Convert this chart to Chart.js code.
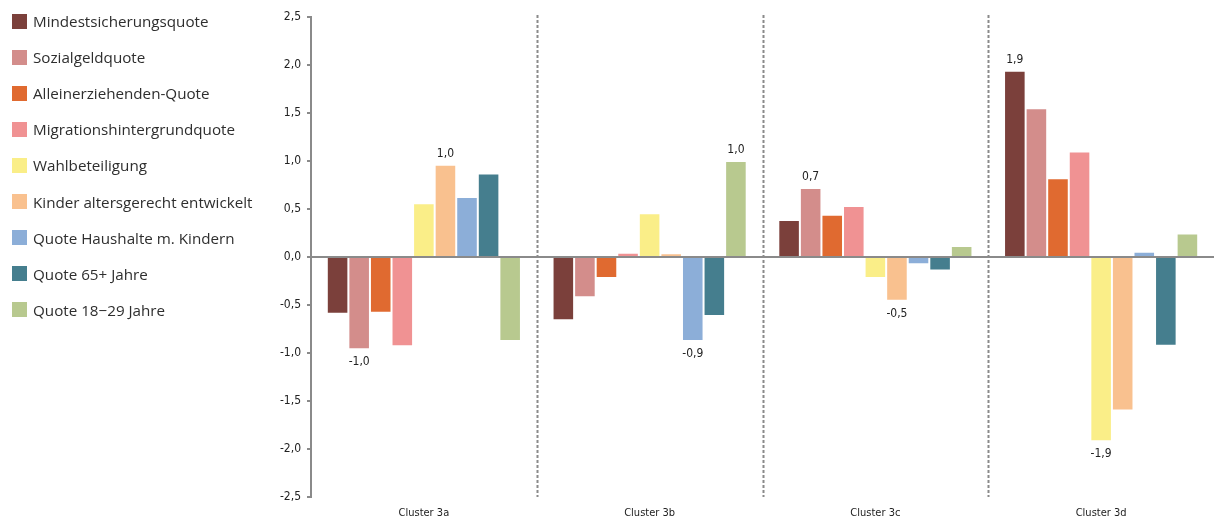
<!DOCTYPE html>
<html><head><meta charset="utf-8">
<script src="https://cdn.jsdelivr.net/npm/chart.js@4/dist/chart.umd.min.js"></script>
<style>
html,body{margin:0;padding:0;background:#fff;}
#wrap{position:relative;width:1214px;height:520px;overflow:hidden;}
#c{position:absolute;left:0;top:0;}
#legend{position:absolute;left:12px;top:0;font-family:"Open Sans","Noto Sans",sans-serif;font-size:15.2px;color:#2e2e2e;}
.item{position:absolute;left:0;white-space:nowrap;display:flex;align-items:center;height:20px;}
.sw{width:15px;height:15px;margin-right:6px;flex:none;}
</style>
</head><body>
<div id="wrap"><canvas id="c" width="1214" height="520"></canvas><div id="legend"></div></div>
<script>
const categories = ["Cluster 3a","Cluster 3b","Cluster 3c","Cluster 3d"];
const seriesNames = ["Mindestsicherungsquote","Sozialgeldquote","Alleinerziehenden-Quote","Migrationshintergrundquote","Wahlbeteiligung","Kinder altersgerecht entwickelt","Quote Haushalte m. Kindern","Quote 65+ Jahre","Quote 18\u221229 Jahre"];
const seriesColors = ["#7B403B","#D38D8B","#E06A30","#F09293","#FAEE88","#F9C18F","#8CAED8","#457E8E","#B8C98F"];
const mindest    = [-0.59, -0.66,  0.385,  1.94];
const sozialgeld = [-0.96, -0.42,  0.72,   1.55];
const alleinerz  = [-0.58, -0.22,  0.44,   0.82];
const migration  = [-0.93,  0.045, 0.53,   1.10];
const wahl       = [ 0.56,  0.455,-0.22,  -1.92];
const kinder     = [ 0.96,  0.04, -0.455, -1.60];
const haushalte  = [ 0.625,-0.875,-0.075,  0.055];
const quote65    = [ 0.87, -0.615,-0.14,  -0.925];
const quote1829  = [-0.875, 1.00,  0.115,  0.245];
const seriesValues = [mindest,sozialgeld,alleinerz,migration,wahl,kinder,haushalte,quote65,quote1829];
const yTicks = [-2.5,-2.0,-1.5,-1.0,-0.5,0,0.5,1.0,1.5,2.0,2.5];
// [series index, category index] of bars that carry a value label
const labelledBars = [[1,0],[5,0],[6,1],[8,1],[1,2],[5,2],[0,3],[4,3]];

const fmt = v => (Math.round(v*10)/10).toFixed(1).replace('.',',').replace(/^-0,0$/,'0,0');
const narrow = '"Liberation Sans Narrow","DejaVu Sans Condensed","Liberation Sans",sans-serif';

// HTML legend
const leg = document.getElementById('legend');
seriesNames.forEach((n,i)=>{
  const d=document.createElement('div');d.className='item';d.style.top=(11+i*36.1)+'px';
  d.innerHTML='<span class="sw" style="background:'+seriesColors[i]+'"></span><span>'+n+'</span>';
  leg.appendChild(d);
});

const dividerPlugin = {
  id:'dividers',
  beforeDatasetsDraw(chart){
    const xs=chart.scales.x, ca=chart.chartArea, ctx=chart.ctx;
    ctx.save();ctx.strokeStyle='#8a8a8a';ctx.lineWidth=2;ctx.setLineDash([3,2]);
    for(let i=0;i<categories.length-1;i++){
      const x=Math.round((xs.getPixelForTick(i)+xs.getPixelForTick(i+1))/2)+0.5;
      ctx.beginPath();ctx.moveTo(x,ca.top-2);ctx.lineTo(x,ca.bottom);ctx.stroke();
    }
    ctx.restore();
  }
};
const valueLabelPlugin = {
  id:'valueLabels',
  afterDatasetsDraw(chart){
    const ctx=chart.ctx;ctx.save();
    ctx.font='12px '+narrow;ctx.fillStyle='#222';ctx.textAlign='center';ctx.textBaseline='middle';
    labelledBars.forEach(([s,c])=>{
      const el=chart.getDatasetMeta(s).data[c];const v=seriesValues[s][c];
      ctx.fillText(fmt(v),el.x,v>=0?el.y-11:el.y+13);
    });
    ctx.restore();
  }
};

new Chart(document.getElementById('c'),{
  type:'bar',
  data:{labels:categories,datasets:seriesValues.map((vals,i)=>({
    label:seriesNames[i],data:vals,backgroundColor:seriesColors[i],
    borderColor:'rgba(255,255,255,0.55)',borderWidth:1,
    categoryPercentage:0.86,barPercentage:1
  }))},
  options:{
    responsive:false,animation:false,
    layout:{padding:{left:260,top:17,right:0,bottom:0}},
    plugins:{legend:{display:false},tooltip:{enabled:false}},
    scales:{
      x:{
        afterFit(scale){scale.height=23;},
        grid:{display:false,drawTicks:false},border:{display:false},
        ticks:{font:{family:narrow,size:11},color:'#222',padding:10}
      },
      y:{
        min:-2.5,max:2.5,
        afterBuildTicks(scale){scale.ticks=yTicks.map(v=>({value:v}));},
        afterFit(scale){scale.width=51;},
        grid:{color:ctx=>ctx.tick&&ctx.tick.value===0?'#8a8a8a':'rgba(0,0,0,0)',lineWidth:2,tickColor:'#8a8a8a',tickLength:4,tickWidth:2},
        border:{display:true,color:'#8a8a8a',width:2},
        ticks:{font:{family:narrow,size:12},color:'#222',padding:6,callback:v=>fmt(v)}
      }
    }
  },
  plugins:[dividerPlugin,valueLabelPlugin]
});
</script>
</body></html>
